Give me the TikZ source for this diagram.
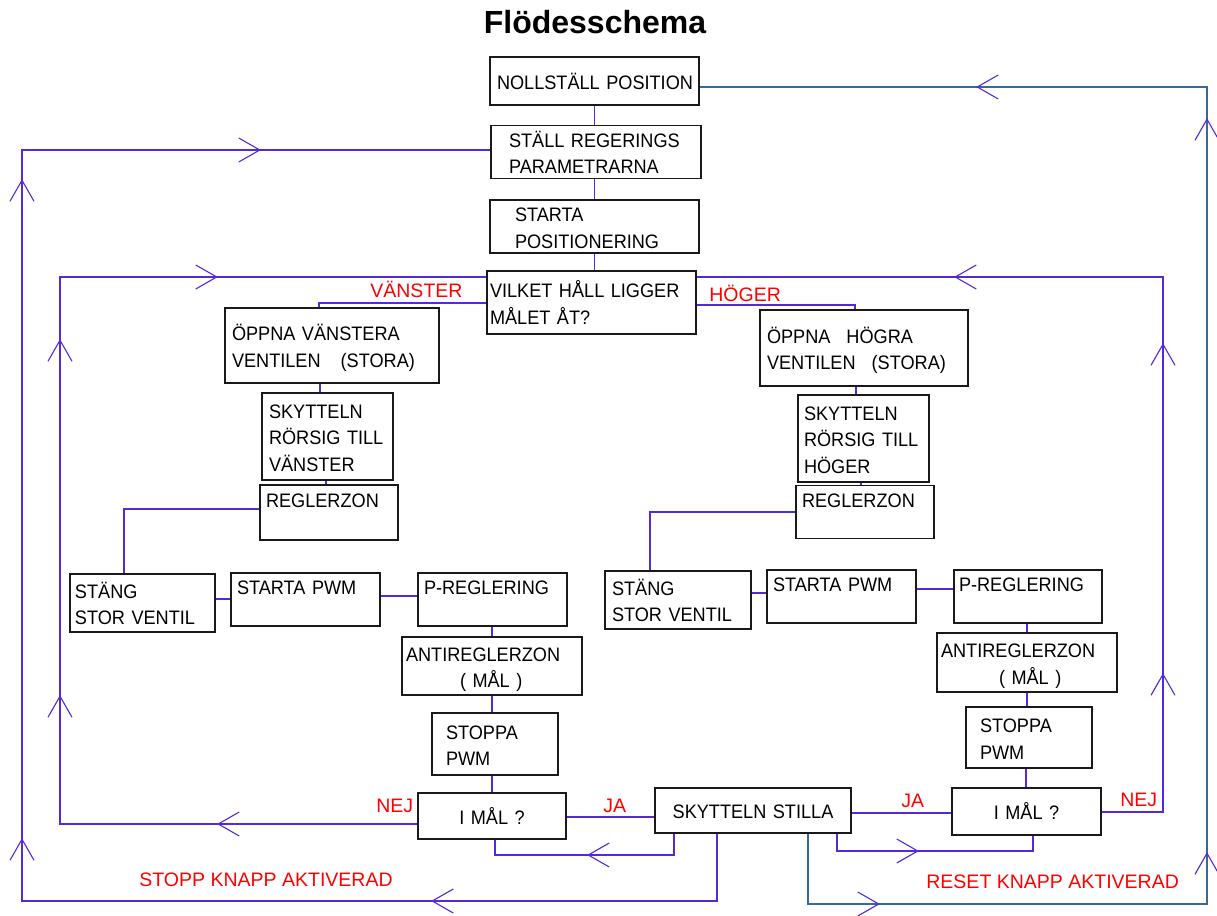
\documentclass[tikz,border=0pt]{standalone}
\usepackage{fontspec}
\setmainfont{Liberation Sans}
\newfontfamily\boxfont{Liberation Sans}[FakeStretch=0.93]
\usetikzlibrary{decorations.markings}
\definecolor{conn}{RGB}{85,40,220}
\definecolor{resetc}{RGB}{55,105,160}
\definecolor{lblred}{RGB}{255,0,0}
\definecolor{boxline}{RGB}{25,25,25}
\newcommand\vhd{\draw[conn, line width=0.55pt] (-10.5pt,6pt) -- (0pt,0pt) -- (-10.5pt,-6pt);}
% \bx[opts]{name}{x1}{y1}{x2}{y2}{pad}{text}
\newcommand\bx[8][]{%
  \pgfmathsetmacro\bxw{(#5-#3)*0.5}%
  \pgfmathsetmacro\bxh{(#6-#4)*0.5}%
  \pgfmathsetmacro\bxt{(#5-#3-2*#7)*0.5}%
  \pgfmathsetmacro\bxp{#7*0.5}%
  \node[flowbox, minimum width=\bxw pt, minimum height=\bxh pt, text width=\bxt pt, inner xsep=\bxp pt, #1] (#2) at ({(#3+#5)/2},{(#4+#6)/2}) {#8};}
\tikzset{
  flowbox/.style={draw=boxline, line width=0.75pt, rectangle, inner ysep=0pt, align=left,
    font=\boxfont\fontsize{9.75}{13.3}\selectfont,
    execute at begin node={\rule{0pt}{10.8pt}},
    execute at end node={\rule[-2.5pt]{0pt}{2.5pt}}},
  link/.style={draw=conn, line width=0.65pt},
  resetlink/.style={draw=resetc, line width=0.65pt},
  midarr/.style={postaction={decorate, decoration={markings, mark=at position #1 with {\vhd}}}},
  lab/.style={text=lblred, font=\fontsize{9.75}{12}\selectfont, inner sep=0pt, anchor=base west},
}
\begin{document}
\begin{tikzpicture}[x=0.5pt, y=-0.5pt]
\fill[white] (0,0) rectangle (1217,916);
\useasboundingbox (0,0) rectangle (1217,916);

\node[font=\bfseries\fontsize{16}{19}\selectfont, anchor=base, inner sep=0pt] (title) at (595,33) {Flödesschema};

% boxes
\bx{noll}{490}{57}{699}{105}{7}{NOLLSTÄLL~POSITION}
\bx{stall}{491}{127}{701}{177}{18}{STÄLL~REGERINGS\\PARAMETRARNA}
\bx{starta}{490}{201}{699}{252}{25}{STARTA\\POSITIONERING}
\bx{vilket}{487}{271}{696}{334}{3}{VILKET~HÅLL~LIGGER\\MÅLET~ÅT?}

\bx{oppv}{225}{308}{439}{383}{7}{ÖPPNA~VÄNSTERA\\VENTILEN\hspace{10pt}(STORA)}
\bx{skyv}{262}{393}{393}{480}{7}{SKYTTELN\\RÖRSIG~TILL\\VÄNSTER}
\bx{regv}{260}{485}{398}{540}{6}{REGLERZON\\}
\bx{stangv}{70}{574}{215}{632}{5}{STÄNG\\STOR~VENTIL}
\bx{pwmv}{231}{574}{380}{625}{6}{STARTA~PWM\\}
\bx{pregv}{418}{574}{567}{625}{6}{P-REGLERING\\}
\bx{antiv}{402}{637}{582}{695}{4}{ANTIREGLERZON\\\hspace*{27pt}(~MÅL~)}
\bx{stopv}{432}{713}{558}{775}{14}{STOPPA\\PWM}
\bx[align=center]{imalv}{418}{793}{566}{839}{0}{I~MÅL~?}

\bx[align=center]{skst}{655}{788}{851}{833}{0}{SKYTTELN~STILLA}

\bx{opph}{760}{310}{968}{386}{7}{ÖPPNA\hspace{8pt}HÖGRA\\VENTILEN\hspace{8pt}(STORA)}
\bx{skyh}{798}{395}{929}{482}{6}{SKYTTELN\\RÖRSIG~TILL\\HÖGER}
\bx{regh}{796}{487}{934}{537}{6}{REGLERZON\\}
\bx{stangh}{605}{571}{751}{629}{7}{STÄNG\\STOR~VENTIL}
\bx{pwmh}{767}{571}{916}{622}{6}{STARTA~PWM\\}
\bx{pregh}{954}{571}{1102}{622}{5}{P-REGLERING\\}
\bx{antih}{937}{633}{1117}{692}{4}{ANTIREGLERZON\\\hspace*{29pt}(~MÅL~)}
\bx{stoph}{966}{707}{1092}{768}{14}{STOPPA\\PWM}
\bx[align=center]{imalh}{952}{788}{1101}{835}{0}{I~MÅL~?}

% straight links
\draw[link] (noll.south) -- (noll.south |- stall.north);
\draw[link] (stall.south -| noll.south) -- (noll.south |- starta.north);
\draw[link] (starta.south -| noll.south) -- (noll.south |- vilket.north);

\draw[link] (vilket.west |- 0,303) -| (oppv.north -| 319,0);
\draw[link] (vilket.east |- 0,305) -| (opph.north -| 855,0);

\draw[link] (oppv.south -| 320,0) -- (skyv.north -| 320,0);
\draw[link] (skyv.south -| 326,0) -- (regv.north -| 326,0);
\draw[link] (regv.west |- 0,509) -| (stangv.north -| 124,0);
\draw[link] (stangv.east |- 0,599) -- (pwmv.west |- 0,599);
\draw[link] (pwmv.east |- 0,596) -- (pregv.west |- 0,596);
\draw[link] (pregv.south -| 492,0) -- (antiv.north -| 492,0);
\draw[link] (antiv.south -| 492,0) -- (stopv.north -| 492,0);
\draw[link] (stopv.south -| 492,0) -- (imalv.north -| 492,0);

\draw[link] (opph.south -| 856,0) -- (skyh.north -| 856,0);
\draw[link] (skyh.south -| 861,0) -- (regh.north -| 861,0);
\draw[link] (regh.west |- 0,512) -| (stangh.north -| 650,0);
\draw[link] (stangh.east |- 0,593) -- (pwmh.west |- 0,593);
\draw[link] (pwmh.east |- 0,589) -- (pregh.west |- 0,589);
\draw[link] (pregh.south -| 1027,0) -- (antih.north -| 1027,0);
\draw[link] (antih.south -| 1027,0) -- (stoph.north -| 1027,0);
\draw[link] (stoph.south -| 1026,0) -- (imalh.north -| 1026,0);

\draw[link] (imalv.east |- 0,817) -- (skst.west |- 0,817);
\draw[link] (skst.east |- 0,813) -- (imalh.west |- 0,813);

% loop corners
\coordinate (nl1) at (60,824);   \coordinate (nl2) at (60,277);
\coordinate (st1) at (717,901);  \coordinate (st2) at (22,901);  \coordinate (st3) at (22,150);
\coordinate (bl1) at (674,855);  \coordinate (bl2) at (495,855);
\coordinate (br1) at (837,851);  \coordinate (br2) at (1033,851);
\coordinate (nr1) at (1163,812); \coordinate (nr2) at (1163,277);
\coordinate (rs1) at (808,904);  \coordinate (rs2) at (1207,904); \coordinate (rs3) at (1207,87);

% loops with mid arrows
\draw[link, midarr=99.5pt, midarr=242.5pt, midarr=420.5pt, midarr=530.5pt]
  (imalv.west |- nl1) -- (nl1) -- (nl2) -- (vilket.west |- nl2);
\draw[link, midarr=176pt, midarr=412pt, midarr=741.5pt, midarr=875.5pt]
  (skst.south -| st1) -- (st1) -- (st2) -- (st3) -- (stall.west |- st3);
\draw[link, midarr=53.5pt]
  (skst.south -| bl1) -- (bl1) -- (bl2) -- (imalv.south -| bl2);
\draw[link, midarr=49pt]
  (skst.south -| br1) -- (br1) -- (br2) -- (imalh.south -| br2);
\draw[link, midarr=99.5pt, midarr=264.5pt, midarr=402pt]
  (imalh.east |- nr1) -- (nr1) -- (nr2) -- (vilket.east |- nr2);
\draw[resetlink, midarr=70.5pt, midarr=260pt, midarr=627pt, midarr=758pt]
  (skst.south -| rs1) -- (rs1) -- (rs2) -- (rs3) -- (noll.east |- rs3);

% labels
\node[lab] (lvan) at (370,297) {VÄNSTER};
\node[lab] (lhog) at (709,301) {HÖGER};
\node[lab] (lnejv) at (376,812) {NEJ};
\node[lab] (ljav) at (603,812) {JA};
\node[lab] (ljah) at (901,807) {JA};
\node[lab] (lnejh) at (1120,806) {NEJ};
\node[lab] (lstopp) at (139,886) {STOPP KNAPP AKTIVERAD};
\node[lab] (lreset) at (926,888) {RESET KNAPP AKTIVERAD};
\end{tikzpicture}
\end{document}
